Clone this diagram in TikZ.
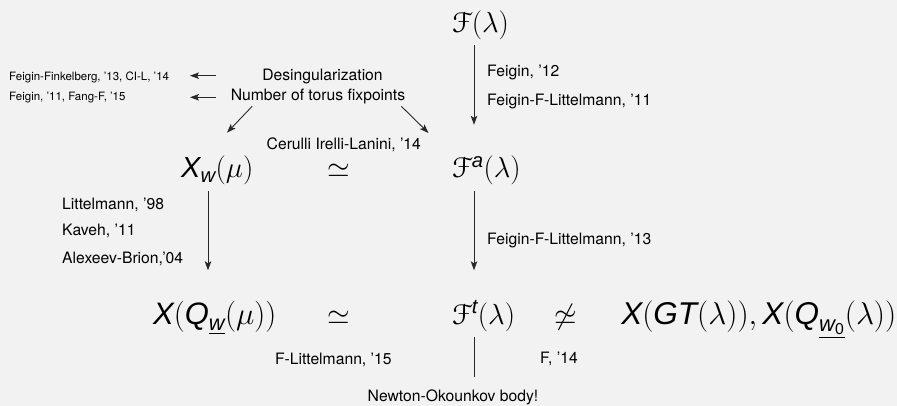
\RequirePackage{fix-cm}
\documentclass[tikz,border=0pt]{standalone}
\usepackage{amsmath}
\DeclareFontFamily{U}{eus}{\skewchar\font'60}
\DeclareFontShape{U}{eus}{m}{n}{<-6>eusm5<6-8>eusm7<8->eusm10}{}
\DeclareFontShape{U}{eus}{b}{n}{<-6>eusb5<6-8>eusb7<8->eusb10}{}
\usepackage[mathcal]{euscript}
\usepackage[no-math]{fontspec}
\setmainfont{TeX Gyre Heros}
\newfontfamily\msans{Liberation Sans}
\usetikzlibrary{arrows.meta}
\definecolor{bg}{RGB}{242,242,242}
\definecolor{ln}{RGB}{40,40,40}
\newcommand{\si}[1]{\text{\msans\itshape #1}}
\begin{document}
\begin{tikzpicture}[x=1pt,y=-1pt,
  big/.style={inner sep=0pt, font=\fontsize{29}{34}\selectfont, text height=21.75pt, text depth=7.25pt, anchor=base west},
  bigger/.style={big, font=\fontsize{31}{36}\selectfont},
  rel/.style={inner sep=0pt, font=\fontsize{29}{34}\selectfont, anchor=base},
  lbl/.style={inner sep=0pt, font=\fontsize{15.7}{18}\selectfont, anchor=base west},
  tinylbl/.style={inner sep=0pt, font=\fontsize{11.5}{13}\selectfont, anchor=base west},
  arr/.style={draw=ln, line width=0.9pt, -{Stealth[length=9pt,width=6.5pt,inset=2pt]}},
  plainline/.style={draw=ln, line width=0.9pt}]
\fill[bg] (0,0) rectangle (897,406);
\useasboundingbox (0,0) rectangle (897,406);
% big math nodes
\node[big] (F) at (452,33) {$\mathcal{F}(\lambda)$};
\node[big] (Fa) at (452,178) {$\mathcal{F}^{\si{a}}(\lambda)$};
\node[big] (Ft) at (452,324) {$\mathcal{F}^{\si{t}}(\lambda)$};
\node[big] (Xw) at (181,178) {$\si{X}_{\si{w}}(\mu)$};
\node[rel] (s1) at (339,178) {$\simeq$};
\node[bigger] (XQ) at (153,324) {$\si{X}(\si{Q}_{\underline{\si{w}}}(\mu))$};
\node[rel] (s2) at (339,324) {$\simeq$};
\node[rel] (ns) at (566,324) {$\not\simeq$};
\node[bigger,font=\fontsize{31.5}{36}\selectfont,anchor=base east] (GT) at (896.5,324) {$\si{X}(\si{GT}(\lambda)),\si{X}(\si{Q}_{\underline{\si{w}_{\text{\msans 0}}}}(\lambda))$};
% labels
\node[lbl] (l1) at (487,76.7) {Feigin, '12};
\node[lbl] (l2) at (487,106) {Feigin-F-Littelmann, '11};
\node[lbl,anchor=base] (des) at (322.5,80.7) {Desingularization};
\node[lbl,anchor=base] (num) at (318,100.7) {Number of torus fixpoints};
\node[tinylbl] (ffA) at (9,80.7) {Feigin-Finkelberg, '13, CI-L, '14};
\node[tinylbl] (ffB) at (9,100.7) {Feigin, '11, Fang-F, '15};
\node[lbl] (cil) at (266.5,150) {Cerulli Irelli-Lanini, '14};
\node[lbl] (lit) at (62,209.5) {Littelmann, '98};
\node[lbl] (kav) at (62,236) {Kaveh, '11};
\node[lbl] (ab) at (62,263) {Alexeev-Brion,'04};
\node[lbl] (ffl) at (487,245) {Feigin-F-Littelmann, '13};
\node[lbl] (fl) at (275,364) {F-Littelmann, '15};
\node[lbl] (f14) at (540,363.5) {F, '14};
\node[lbl] (no) at (367.5,401.5) {Newton-Okounkov body!};
% columns and tips
\coordinate (cR) at (474,0);
\coordinate (cL) at (208,0);
\coordinate (tA) at (190,75.7);
\coordinate (tB) at (190,97.3);
\coordinate (dL) at (227,132.7);
\coordinate (dR) at (428.5,133);
% connectors
\draw[arr, shorten <=4.75pt, shorten >=31.25pt] (F.south -| cR) -- (Fa.north -| cR);
\draw[arr, shorten <=5.75pt, shorten >=31.75pt] (Xw.south -| cL) -- (XQ.north -| cL);
\draw[arr, shorten <=5.75pt, shorten >=31.75pt] (Fa.south -| cR) -- (Ft.north -| cR);
\draw[plainline, shorten <=5.75pt, shorten >=13pt] (Ft.south -| cR) -- (no.north -| cR);
\draw[arr, shorten <=46pt] (des.west |- tA) -- (tA);
\draw[arr, shorten <=14.5pt] (num.west |- tB) -- (tB);
\draw[arr] (num.south west) ++(21.5,2) -- (dL);
\draw[arr] (num.south east) ++(-4,2) -- (dR);
\end{tikzpicture}
\end{document}
